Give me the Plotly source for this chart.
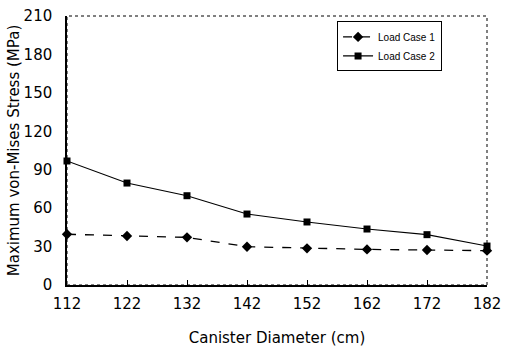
import plotly.graph_objects as go

diameters = [112, 122, 132, 142, 152, 162, 172, 182]
load_case_1 = [39.6, 38.3, 37.2, 29.9, 28.6, 27.8, 27.3, 26.8]
load_case_2 = [96.8, 79.6, 69.7, 55.4, 49.2, 43.7, 39.3, 30.4]
x_ticks = [112, 122, 132, 142, 152, 162, 172, 182]
y_ticks = [0, 30, 60, 90, 120, 150, 180, 210]

fig = go.Figure()
fig.add_trace(go.Scatter(
    x=diameters, y=load_case_1, name="Load Case 1", mode="lines+markers",
    line=dict(color="black", width=1.3, dash="dash"),
    marker=dict(symbol="diamond", size=8, color="black"), cliponaxis=False))
fig.add_trace(go.Scatter(
    x=diameters, y=load_case_2, name="Load Case 2", mode="lines+markers",
    line=dict(color="black", width=1.1),
    marker=dict(symbol="square", size=7, color="black"), cliponaxis=False))

fig.update_layout(
    width=505, height=349,
    margin=dict(l=67, r=18, t=16, b=64),
    paper_bgcolor="white", plot_bgcolor="white",
    font=dict(family="DejaVu Sans, sans-serif", color="black", size=15),
    showlegend=True,
    legend=dict(x=0.643, y=0.98, xanchor="left", yanchor="top",
                bordercolor="black", borderwidth=1, bgcolor="white",
                font=dict(size=10, family="Liberation Sans, Arial, sans-serif"),
                tracegroupgap=0, itemwidth=30),
    shapes=[dict(type="rect", xref="paper", yref="paper", x0=0, y0=0, x1=1, y1=1,
                 line=dict(color="black", width=1, dash="dot"))],
)
fig.update_xaxes(
    range=[112, 182], tickvals=x_ticks, ticktext=[str(v) for v in x_ticks],
    showgrid=False, zeroline=False, showline=True, linecolor="black", linewidth=1.5,
    ticks="inside", ticklen=5, tickcolor="black", automargin=False,
    ticklabeloverflow="allow",
    title=dict(text="Canister Diameter (cm)", standoff=21, font=dict(size=15)),
    tickfont=dict(size=15), ticklabelstandoff=4)
fig.update_yaxes(
    range=[0, 210], tickvals=y_ticks, showgrid=False, zeroline=False,
    showline=True, linecolor="black", linewidth=1.5, ticks="", automargin=False,
    ticklabeloverflow="allow",
    title=dict(text="Maximum von-Mises Stress (MPa)", standoff=0, font=dict(size=15)),
    tickfont=dict(size=15), ticklabelstandoff=10)

fig.write_html(
    "out.html",
    config={"displayModeBar": False},
    post_script="document.body.style.margin='0';document.body.style.overflow='hidden';",
)
